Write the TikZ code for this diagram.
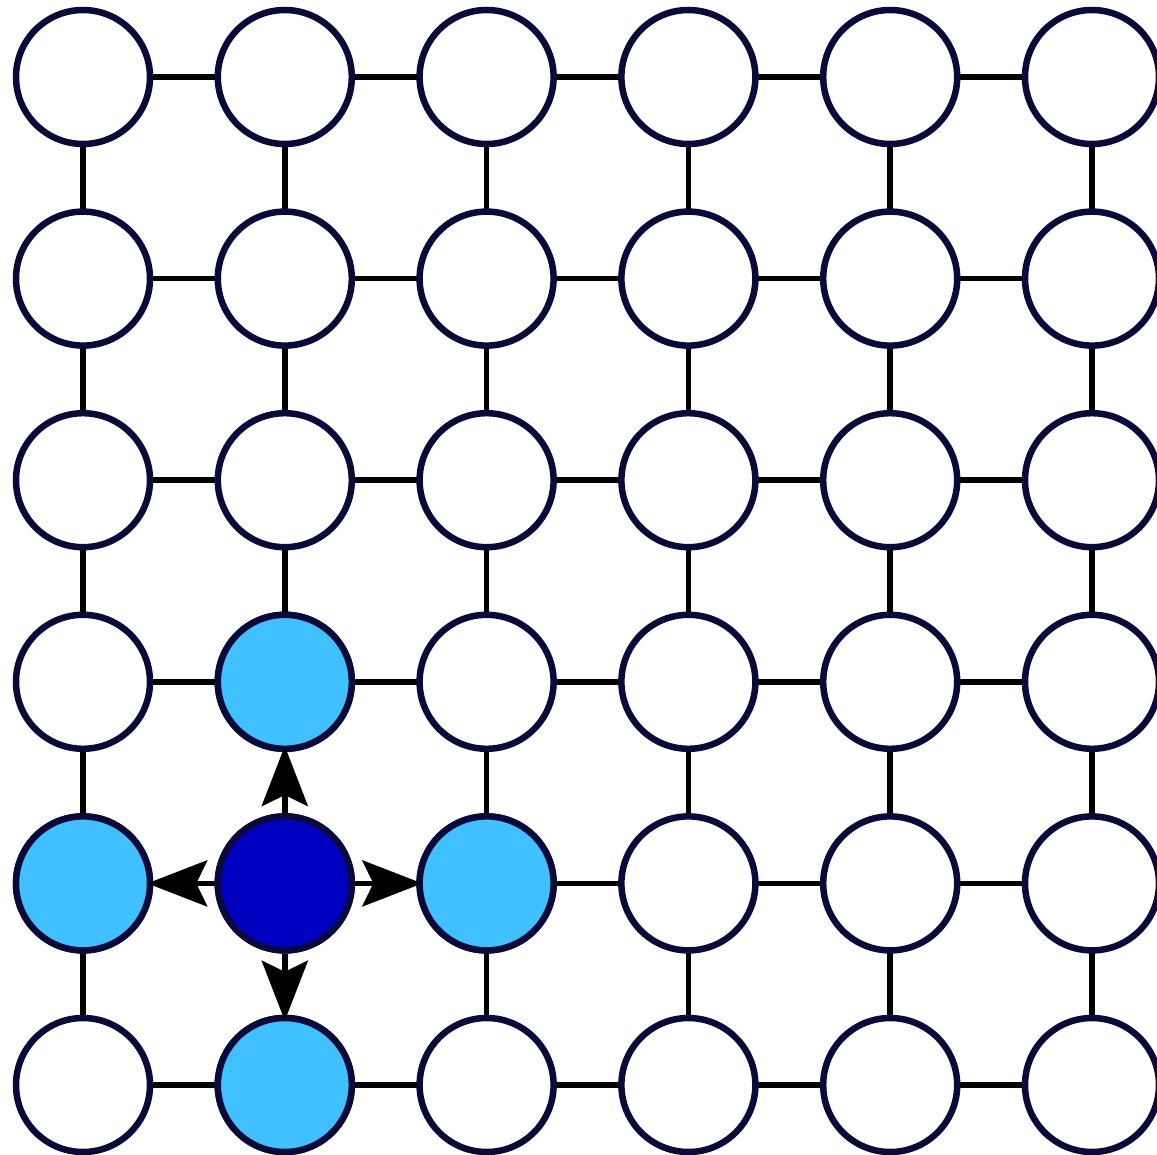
\documentclass[tikz,border=0pt]{standalone}
\usetikzlibrary{arrows.meta}
\definecolor{ring}{HTML}{0A0A3A}
\definecolor{lightb}{HTML}{40C0FF}
\definecolor{darkb}{HTML}{0000C0}
\begin{document}
\begin{tikzpicture}[x=1pt,y=-1pt,
  cell/.style={circle,draw=ring,line width=6.5pt,fill=white,minimum size=134pt,inner sep=0pt},
  nbr/.style={cell,fill=lightb},
  ctr/.style={cell,fill=darkb},
  link/.style={line width=5.5pt,black},
  push/.style={link,shorten >=-6pt,-{Stealth[length=60pt,width=46pt,inset=11pt]}}]
\useasboundingbox (0,0) rectangle (1157,1155);
\foreach \i in {1,...,6}{
  \foreach \j in {1,...,6}{
    \pgfmathsetmacro{\px}{83+201.8*(\i-1)}
    \pgfmathsetmacro{\py}{77+201.6*(\j-1)}
    \coordinate (p\i-\j) at (\px,\py);
  }
}
% grid links (behind nodes)
\foreach \i in {1,...,6}{
  \foreach \j [count=\k from 2] in {1,...,5}{
    \ifnum\i=2 \ifnum\j=4 \else \ifnum\j=5 \else \draw[link] (p\i-\j) -- (p\i-\k);\fi\fi
    \else \draw[link] (p\i-\j) -- (p\i-\k);\fi
  }
}
\foreach \j in {1,...,6}{
  \foreach \i [count=\k from 2] in {1,...,5}{
    \ifnum\j=5 \ifnum\i=1 \else \ifnum\i=2 \else \draw[link] (p\i-\j) -- (p\k-\j);\fi\fi
    \else \draw[link] (p\i-\j) -- (p\k-\j);\fi
  }
}
% nodes
\foreach \i in {1,...,6}{
  \foreach \j in {1,...,6}{
    \node[cell] (n\i-\j) at (p\i-\j) {};
  }
}
\node[nbr] (n2-4) at (p2-4) {};
\node[nbr] (n1-5) at (p1-5) {};
\node[nbr] (n3-5) at (p3-5) {};
\node[nbr] (n2-6) at (p2-6) {};
\node[ctr] (n2-5) at (p2-5) {};
% arrows from centre to neighbours
\draw[push] (n2-5) -- (n2-4);
\draw[push] (n2-5) -- (n1-5);
\draw[push] (n2-5) -- (n3-5);
\draw[push] (n2-5) -- (n2-6);
\end{tikzpicture}
\end{document}
